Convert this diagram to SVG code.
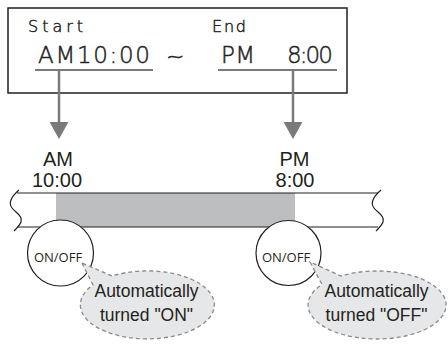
<svg xmlns="http://www.w3.org/2000/svg" width="448" height="348" viewBox="0 0 448 348">
<style>
.lcd{font-family:"DejaVu Sans",sans-serif;font-weight:200;fill:#222;stroke:#222;stroke-width:0.45}
.lbl{font-family:"Liberation Sans",Arial,sans-serif;font-size:20px;fill:#231f20;text-anchor:middle}
.btn{font-family:"Open Sans","Noto Sans",sans-serif;font-size:13px;fill:#231f20;text-anchor:middle}
.co{font-family:"Liberation Sans",Arial,sans-serif;font-size:17.5px;fill:#231f20;text-anchor:middle}
.uline{stroke:#7a7a7a;stroke-width:2;fill:none}
.conn{stroke:#7a7a7a;stroke-width:2.5;fill:none}
.head{fill:#7a7a7a}
.callout{fill:#e6e7e8;stroke:#8a8a8a;stroke-width:1.3;stroke-dasharray:4 3}
.band{stroke:#231f20;stroke-width:1.2;fill:none}
.circ{fill:#fff;stroke:#231f20;stroke-width:1.2}
</style>
<g id="display">
<rect x="8" y="8" width="339" height="85" fill="#fff" stroke="#231f20" stroke-width="1.5"/>
<text class="lcd" x="28" y="32" font-size="16" textLength="55" lengthAdjust="spacing">Start</text>
<text class="lcd" x="212" y="32" font-size="16" textLength="34" lengthAdjust="spacing">End</text>
<text class="lcd" x="38" y="63" font-size="23" textLength="112" lengthAdjust="spacing">AM10:00</text>
<text class="lcd" x="166" y="64" font-size="22">~</text>
<text class="lcd" x="221" y="63" font-size="23" textLength="34" lengthAdjust="spacing">PM</text>
<text class="lcd" x="287" y="63" font-size="23" textLength="46" lengthAdjust="spacing">8:00</text>
<line class="uline" x1="35" y1="70" x2="153" y2="70"/>
<line class="uline" x1="218" y1="70" x2="337" y2="70"/>
</g>
<g id="connectors">
<line class="conn" x1="59" y1="70" x2="59" y2="124"/>
<polygon class="head" points="49.5,122 68.5,122 59,139"/>
<line class="conn" x1="293" y1="70" x2="293" y2="124"/>
<polygon class="head" points="283.5,122 302.5,122 293,139"/>
</g>
<g id="label-am">
<text class="lbl" x="58" y="166">AM</text>
<text class="lbl" x="57" y="187">10:00</text>
</g>
<g id="label-pm">
<text class="lbl" x="294.5" y="166">PM</text>
<text class="lbl" x="295" y="187">8:00</text>
</g>
<g id="timeline">
<rect x="56" y="193" width="239" height="34" fill="#bcbec0"/>
<line class="band" x1="17" y1="193" x2="378" y2="193"/>
<line class="band" x1="17" y1="227" x2="378" y2="227"/>
<path class="band" d="M19,190 C11,197 8,203 12,208 C16,213 23,216 21,222 C20,225 17,228 14,231"/>
<path class="band" d="M381,190 C373,197 370,203 374,208 C378,213 385,216 383,222 C382,225 379,228 376,231"/>
</g>
<g id="button-on">
<circle class="circ" cx="60.5" cy="253" r="33"/>
<text class="btn" x="58" y="262">ON/OFF</text>
</g>
<g id="button-off">
<circle class="circ" cx="288.5" cy="253" r="32.5"/>
<text class="btn" x="286" y="262">ON/OFF</text>
</g>
<g id="callout-on">
<path class="callout" d="M82,263 L93,285 A67,34 0 1 0 112,276 Z"/>
<text class="co" x="146.5" y="297">Automatically</text>
<text class="co" x="146.5" y="321">turned "ON"</text>
</g>
<g id="callout-off">
<path class="callout" d="M310,262 L322,284.5 A69,34 0 1 0 341,276 Z"/>
<text class="co" x="376.5" y="297">Automatically</text>
<text class="co" x="376.5" y="321">turned "OFF"</text>
</g>
</svg>
